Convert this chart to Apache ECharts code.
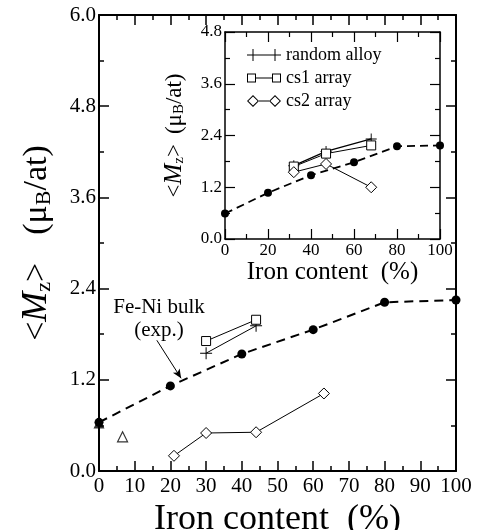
<!DOCTYPE html>
<html><head><meta charset="utf-8">
<script src="https://cdn.jsdelivr.net/npm/echarts@6/dist/echarts.min.js"></script>
<style>html,body{margin:0;padding:0;background:#fff}#c{width:481px;height:530px}</style>
</head><body><div id="c"></div>
<script>
// ---------- data (main panel) ----------
const bulkX = [0, 20, 40, 60, 80, 100];
const bulkY = [0.64, 1.12, 1.54, 1.86, 2.22, 2.25];
const randX = [30, 44];
const randY = [1.55, 1.91];
const cs1X = [30, 44];
const cs1Y = [1.71, 1.99];
const cs2X = [21, 30, 44, 63];
const cs2Y = [0.20, 0.50, 0.51, 1.02];
const triFilled = [[0, 0.63]];
const triOpen = [[6.6, 0.45]];
// ---------- data (inset) ----------
const inBulkX = [0, 20, 40, 60, 80, 100];
const inBulkY = [0.59, 1.07, 1.48, 1.78, 2.15, 2.17];
const inRandX = [32, 47, 68];
const inRandY = [1.70, 2.03, 2.32];
const inCs1X = [32, 47, 68];
const inCs1Y = [1.68, 1.98, 2.17];
const inCs2X = [32, 47, 68];
const inCs2Y = [1.55, 1.74, 1.20];
// ---------- labels ----------
const legendNames = ['random alloy', 'cs1 array', 'cs2 array'];
const xTitle = 'Iron content  (%)';
const annotation = 'Fe-Ni bulk\n(exp.)';

const F = 'Liberation Serif';
const zip = (xs, ys) => xs.map((x, i) => [x, ys[i]]);

const plusPath = 'path://M5.5,0H6.5V5.5H12V6.5H6.5V12H5.5V6.5H0V5.5H5.5Z';
const legPlus = 'path://M0,5.5H34V6.5H0Z M5.5,0H6.5V12H5.5Z M27.5,0H28.5V12H27.5Z';
const legRect = 'path://M0,1.5H9V10.5H0Z M1,2.5V9.5H8V2.5Z M9,5.5H25V6.5H9Z M25,1.5H34V10.5H25Z M26,2.5V9.5H33V2.5Z';
const legDia = 'path://M6,0L12,6L6,12L0,6Z M6,1.4L1.4,6L6,10.6L10.6,6Z M12,5.5H22V6.5H12Z M28,0L34,6L28,12L22,6Z M28,1.4L23.4,6L28,10.6L32.6,6Z';

function axis(o) {
  const base = {
    type: 'value',
    splitLine: { show: false },
    axisLine: { show: true, onZero: false, lineStyle: { color: '#000', width: o.lw } },
    axisTick: { show: true, inside: true, length: 10, lineStyle: { color: '#000', width: o.tw } },
    minorTick: { show: true, splitNumber: 2, length: 5, lineStyle: { color: '#000', width: o.tw } },
  };
  if (o.labels) {
    base.axisLabel = { show: true, color: '#000', fontFamily: F, fontSize: o.fs, margin: o.margin, formatter: o.fmt };
  } else {
    // mirror axes: real labels kept on (ECharts 6 drops all ticks otherwise), drawn fully transparent
    base.axisLabel = { show: true, color: 'rgba(255,255,255,0)', fontFamily: F, fontSize: 10, margin: 4 };
  }
  return Object.assign(base, o.extra);
}

const xAxes = [
  axis({ lw: 2, tw: 1.5, labels: true, fs: 21, margin: 5, fmt: v => String(v),
    extra: { gridIndex: 0, min: 0, max: 100, interval: 10, position: 'bottom',
      name: xTitle, nameLocation: 'middle', nameGap: 23,
      nameTextStyle: { fontFamily: F, fontSize: 36, color: '#000' } } }),
  axis({ lw: 2, tw: 1.5, labels: false,
    extra: { gridIndex: 0, min: 0, max: 100, interval: 10, position: 'top' } }),
  axis({ lw: 1.5, tw: 1.2, labels: true, fs: 17, margin: 3, fmt: v => String(v),
    extra: { gridIndex: 1, min: 0, max: 100, interval: 20, position: 'bottom',
      name: xTitle, nameLocation: 'middle', nameGap: 21,
      nameTextStyle: { fontFamily: F, fontSize: 25, color: '#000' } } }),
  axis({ lw: 1.5, tw: 1.2, labels: false,
    extra: { gridIndex: 1, min: 0, max: 100, interval: 20, position: 'top' } }),
];

const yAxes = [
  axis({ lw: 2, tw: 1.5, labels: true, fs: 21, margin: 3, fmt: v => v.toFixed(1),
    extra: { gridIndex: 0, min: 0, max: 6, interval: 1.2, position: 'left',
      name: '{t|<}{i|M}{s|z}{t|>}{g|}{t|(μ}{s|B}{t|/at)}', nameLocation: 'middle', nameRotate: 90, nameGap: 44,
      nameTextStyle: { color: '#000', fontFamily: F, rich: {
        t: { fontFamily: F, fontSize: 34, color: '#000' },
        i: { fontFamily: F, fontSize: 36, fontStyle: 'italic', color: '#000' },
        s: { fontFamily: F, fontSize: 22, color: '#000', padding: [14, 0, 0, 0] },
        g: { width: 28 } } } } }),
  axis({ lw: 2, tw: 1.5, labels: false,
    extra: { gridIndex: 0, min: 0, max: 6, interval: 1.2, position: 'right' } }),
  axis({ lw: 1.5, tw: 1.2, labels: true, fs: 17, margin: 3, fmt: v => v.toFixed(1),
    extra: { gridIndex: 1, min: 0, max: 4.8, interval: 1.2, position: 'left',
      name: '{t|<}{i|M}{s|z}{t|>}{g|}{t|(μ}{s|B}{t|/at)}', nameLocation: 'middle', nameRotate: 90, nameGap: 38,
      nameTextStyle: { color: '#000', fontFamily: F, rich: {
        t: { fontFamily: F, fontSize: 23, color: '#000' },
        i: { fontFamily: F, fontSize: 25, fontStyle: 'italic', color: '#000' },
        s: { fontFamily: F, fontSize: 15, color: '#000', padding: [10, 0, 0, 0] },
        g: { width: 10 } } } } }),
  axis({ lw: 1.5, tw: 1.2, labels: false,
    extra: { gridIndex: 1, min: 0, max: 4.8, interval: 1.2, position: 'right' } }),
];

const black = '#000';
function lineSeries(name, data, xi, opts) {
  return Object.assign({
    type: 'line', name, data, xAxisIndex: xi, yAxisIndex: xi,
    lineStyle: { color: black, width: 1 }, itemStyle: { color: '#fff', borderColor: black, borderWidth: 1 },
    symbolKeepAspect: true, z: 3,
  }, opts);
}

const series = [
  lineSeries('bulk', zip(bulkX, bulkY), 0, { symbol: 'circle', symbolSize: 9,
    lineStyle: { color: black, width: 2, type: [9, 6] }, itemStyle: { color: black },
    markLine: { silent: true, symbol: ['none', 'arrow'], symbolSize: [6, 9], label: { show: false },
      lineStyle: { color: black, width: 1, type: 'solid' },
      data: [[{ coord: [16.2, 1.72] }, { coord: [23, 1.22] }]] } }),
  lineSeries('random alloy', zip(randX, randY), 0, { symbol: plusPath, symbolSize: 12, itemStyle: { color: black, borderWidth: 0 } }),
  lineSeries('cs1 array', zip(cs1X, cs1Y), 0, { symbol: 'rect', symbolSize: 9 }),
  lineSeries('cs2 array', zip(cs2X, cs2Y), 0, { symbol: 'diamond', symbolSize: 11 }),
  { type: 'scatter', name: 'triF', data: triFilled, xAxisIndex: 0, yAxisIndex: 0, symbol: 'triangle', symbolSize: 11,
    itemStyle: { color: black }, z: 4 },
  { type: 'scatter', name: 'triO', data: triOpen, xAxisIndex: 0, yAxisIndex: 0, symbol: 'triangle', symbolSize: 10,
    itemStyle: { color: '#fff', borderColor: black, borderWidth: 1.2 }, z: 4 },
  lineSeries('bulk-in', zip(inBulkX, inBulkY), 2, { symbol: 'circle', symbolSize: 8,
    lineStyle: { color: black, width: 1.8, type: [8, 5] }, itemStyle: { color: black } }),
  lineSeries('random alloy', zip(inRandX, inRandY), 2, { symbol: plusPath, symbolSize: 11, itemStyle: { color: black, borderWidth: 0 }, lineStyle: { color: black, width: 1.3 } }),
  lineSeries('cs1 array', zip(inCs1X, inCs1Y), 2, { symbol: 'rect', symbolSize: 9 }),
  lineSeries('cs2 array', zip(inCs2X, inCs2Y), 2, { symbol: 'diamond', symbolSize: 11 }),
];

const chart = echarts.init(document.getElementById('c'));
chart.setOption({
  backgroundColor: '#fff',
  animation: false,
  grid: [
    { left: 99, top: 15, width: 357, height: 456, outerBoundsMode: 'none', containLabel: false },
    { left: 225, top: 32, width: 215, height: 207, outerBoundsMode: 'none', containLabel: false },
  ],
  xAxis: xAxes,
  yAxis: yAxes,
  legend: {
    orient: 'vertical', left: 247, top: 46, padding: 0, itemGap: 5, itemWidth: 34, itemHeight: 12,
    selectedMode: false,
    textStyle: { fontFamily: F, fontSize: 18, color: '#000' },
    data: [
      { name: legendNames[0], icon: legPlus, itemStyle: { color: black, borderWidth: 0 } },
      { name: legendNames[1], icon: legRect, itemStyle: { color: black, borderWidth: 0 } },
      { name: legendNames[2], icon: legDia, itemStyle: { color: black, borderWidth: 0 } },
    ],
  },
  graphic: [
    { type: 'text', x: 159, y: 319, z: 10,
      style: { text: annotation, fontFamily: F, fontSize: 21, lineHeight: 23, fill: '#000', align: 'center', verticalAlign: 'middle' } },
  ],
  series,
});
</script>
</body></html>
